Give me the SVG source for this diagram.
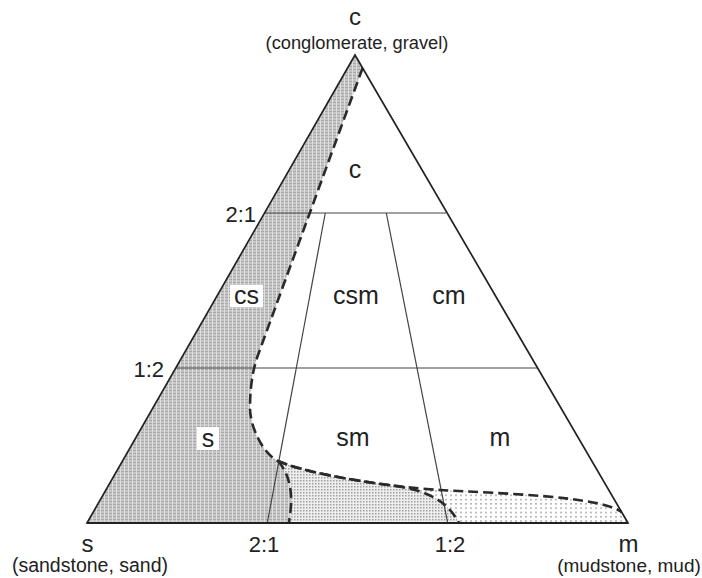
<svg xmlns="http://www.w3.org/2000/svg" width="702" height="578" viewBox="0 0 702 578">
<style>
text{font-family:"Liberation Sans",Arial,Helvetica,sans-serif;fill:#222;text-anchor:middle}
.corner{font-size:24px}
.sub{font-size:19.5px}
.ratio{font-size:22px}
.reg{font-size:25px}
.edge{fill:none;stroke:#222;stroke-width:1.7;stroke-linejoin:miter}
.grid{fill:none;stroke:#444;stroke-width:1.2}
.dash{fill:none;stroke:#2a2a2a;stroke-width:2.6;stroke-dasharray:10 5}
</style>
<defs>
<pattern id="pGrey" width="4" height="3" patternUnits="userSpaceOnUse">
<rect width="4" height="3" fill="#c6c6c6"/>
<rect width="4" height="1" fill="#a9a9a9"/>
<rect width="1" height="3" fill="#dedede"/>
</pattern>
<pattern id="pMed" width="3" height="3" patternUnits="userSpaceOnUse">
<rect width="3" height="3" fill="#eeeeee"/>
<rect width="1.5" height="1.5" fill="#a0a0a0"/>
</pattern>
<pattern id="pLight" width="5" height="4.3" patternUnits="userSpaceOnUse">
<rect width="5" height="4.3" fill="#ffffff"/>
<rect width="2" height="1.5" fill="#b3b3b3"/>
</pattern>
</defs>
<rect width="702" height="578" fill="#ffffff"/>
<g id="fills">
<path id="fill-light" fill="url(#pLight)" d="M278,461 C310,475 390,487 440,490 C500,493.5 600,496 621.5,512 L628,523 L289,523 C289.5,518 290.5,513 291,505 C292,488 288,472 278,461 Z"/>
<path id="fill-medium" fill="url(#pMed)" d="M278,461 C288,472 292,488 291,505 C290.5,513 289.5,518 289,523 L459,523 C447,500 425,490 395,486 C360,481 310,474 278,461 Z"/>
<path id="fill-grey" fill="url(#pGrey)" d="M355,55 L362.6,68 L258,355 C251.7,372.3 250,392 250,408 C250,428 264,454.5 278,461 C288,472 292,488 291,505 C290.5,513 289.5,518 289,523 L87,523 Z"/>
</g>
<g id="grid">
<line class="grid" x1="264.5" y1="213" x2="446" y2="213"/>
<line class="grid" x1="176" y1="368" x2="537.5" y2="368"/>
<line class="grid" x1="325.3" y1="213" x2="267.3" y2="523"/>
<line class="grid" x1="386.3" y1="213" x2="447.7" y2="523"/>
</g>
<g id="connectors">
<path class="dash" d="M362.6,68 L258,355 C251.7,372.3 250,392 250,408 C250,428 264,454.5 278,461 C310,475 390,487 440,490 C500,493.5 600,496 621.5,512"/>
<path class="dash" d="M278,461 C310,474 360,481 395,486 C425,490 447,500 459,523"/>
<path class="dash" d="M278,461 C288,472 292,488 291,505 C290.5,513 289.5,518 289,523"/>
</g>
<g id="triangle">
<path class="edge" d="M355,55 L628,523 L87,523 Z"/>
<line x1="87" y1="523" x2="628" y2="523" stroke="#222" stroke-width="2.2"/>
</g>
<g id="vertex-c">
<text class="corner" x="355" y="25">c</text>
<text class="sub" x="357" y="49" style="font-size:18.3px">(conglomerate, gravel)</text>
</g>
<g id="vertex-s">
<text class="corner" x="87.5" y="551.5">s</text>
<text class="sub" x="90" y="572">(sandstone, sand)</text>
</g>
<g id="vertex-m">
<text class="corner" x="628.5" y="551.5">m</text>
<text class="sub" x="629" y="572" style="font-size:19px">(mudstone, mud)</text>
</g>
<g id="ratios">
<text class="ratio" x="256" y="221.5" style="text-anchor:end">2:1</text>
<text class="ratio" x="164" y="376.5" style="text-anchor:end">1:2</text>
<text class="ratio" x="264" y="551.5">2:1</text>
<text class="ratio" x="450" y="551.5">1:2</text>
</g>
<g id="region-c"><text class="reg" x="355" y="178">c</text></g>
<g id="region-cs"><rect x="230" y="285" width="33" height="22" fill="#fff"/><text class="reg" x="246.5" y="304">cs</text></g>
<g id="region-csm"><text class="reg" x="356" y="304">csm</text></g>
<g id="region-cm"><text class="reg" x="449" y="304">cm</text></g>
<g id="region-s"><rect x="197" y="427" width="22" height="23" fill="#fff"/><text class="reg" x="208" y="446.5">s</text></g>
<g id="region-sm"><text class="reg" x="353" y="446">sm</text></g>
<g id="region-m"><text class="reg" x="500" y="446">m</text></g>
</svg>
